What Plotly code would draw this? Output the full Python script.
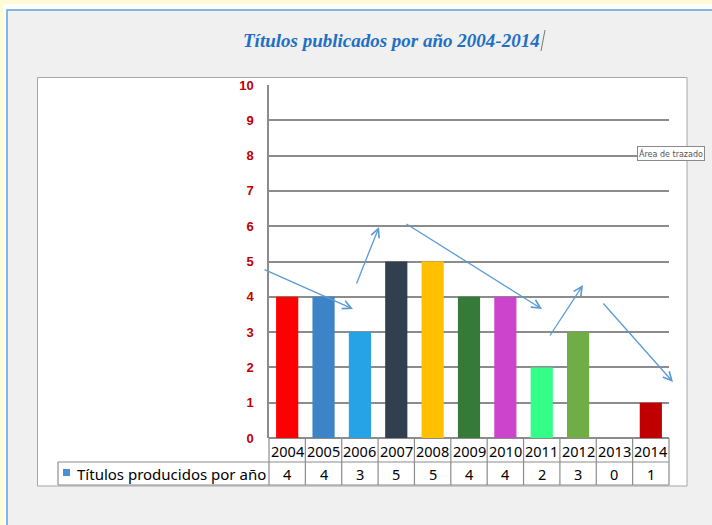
import plotly.graph_objects as go

# ---- data ----
years = ["2004", "2005", "2006", "2007", "2008", "2009", "2010", "2011", "2012", "2013", "2014"]
titles = [4, 4, 3, 5, 5, 4, 4, 2, 3, 0, 1]
bar_colors = ["#FF0000", "#3C84C7", "#26A2E6", "#323F4F", "#FFC000", "#357A38",
              "#CC44CC", "#33FF88", "#70AD47", "#7F7F7F", "#C00000"]
series_name = "Títulos producidos por año"
chart_title = "Títulos publicados por año 2004-2014"
y_ticks = list(range(0, 11))

W, H = 712, 525
L, R, T, B = 269, 43, 85, 87
PW, PH = W - L - R, H - T - B


def px(x):
    return (x - L) / PW


def py(y):
    return (T + PH - y) / PH


fig = go.Figure()
fig.add_trace(go.Bar(x=list(range(len(years))), y=titles, marker=dict(color=bar_colors, line=dict(width=0)),
                     name=series_name, showlegend=False, customdata=years,
                     hovertemplate="%{customdata}: %{y}<extra></extra>"))

shapes = []
# background layers
shapes.append(dict(type="rect", xref="paper", yref="paper", x0=px(3), x1=px(716), y0=py(4), y1=py(530),
                   fillcolor="white", line=dict(width=0), layer="below"))
shapes.append(dict(type="rect", xref="paper", yref="paper", x0=px(7), x1=px(716), y0=py(10), y1=py(530),
                   fillcolor="#F0F0F0", line=dict(color="#5BA3DC", width=1.5), layer="below"))
shapes.append(dict(type="rect", xref="paper", yref="paper", x0=px(37.5), x1=px(687), y0=py(77.5), y1=py(486),
                   fillcolor="white", line=dict(color="#A6A6A6", width=1), layer="below"))

grid_c = "#8C8C8C"
# table lines
n = len(years)
shapes.append(dict(type="line", xref="paper", yref="paper", x0=0, x1=1, y0=py(462), y1=py(462),
                   line=dict(color=grid_c, width=1.2)))
shapes.append(dict(type="line", xref="paper", yref="paper", x0=px(58), x1=0, y0=py(462), y1=py(462),
                   line=dict(color=grid_c, width=1.2)))
shapes.append(dict(type="line", xref="paper", yref="paper", x0=px(58), x1=1, y0=py(485), y1=py(485),
                   line=dict(color=grid_c, width=1.2)))
shapes.append(dict(type="line", xref="paper", yref="paper", x0=px(58), x1=px(58), y0=py(462), y1=py(485),
                   line=dict(color=grid_c, width=1.2)))
for k in range(n + 1):
    shapes.append(dict(type="line", xref="paper", yref="paper", x0=k / n, x1=k / n, y0=0, y1=py(485),
                       line=dict(color=grid_c, width=1.2)))
# legend key square
shapes.append(dict(type="rect", xref="paper", yref="paper", x0=px(63), x1=px(70), y0=py(469), y1=py(476),
                   fillcolor="#4A90D9", line=dict(width=0)))
# text cursor after title
shapes.append(dict(type="line", xref="paper", yref="paper", x0=px(545), x1=px(541), y0=py(30), y1=py(51),
                   line=dict(color="#777777", width=1)))

tbl_font = dict(family="Noto Sans", size=14.5, color="black")
annotations = []
for i, (yr, v) in enumerate(zip(years, titles)):
    annotations.append(dict(x=i, xref="x", y=py(450.5), yref="paper", text=yr, showarrow=False,
                            font=tbl_font, xanchor="center", yanchor="middle"))
    annotations.append(dict(x=i, xref="x", y=py(473.5), yref="paper", text=str(v), showarrow=False,
                            font=tbl_font, xanchor="center", yanchor="middle"))
annotations.append(dict(x=px(75), xref="paper", y=py(473.5), yref="paper", text=series_name, showarrow=False,
                        font=dict(family="Noto Sans", size=15, color="black"), xanchor="left",
                        yanchor="middle"))
# title
annotations.append(dict(x=px(391), xref="paper", y=py(40), yref="paper", text="<b><i>" + chart_title + "</i></b>",
                        showarrow=False, font=dict(family="Liberation Serif", size=19, color="#1F6FC4"),
                        xanchor="center", yanchor="middle"))
# tooltip
annotations.append(dict(x=px(671), xref="paper", y=py(153), yref="paper", text="Área de trazado",
                        showarrow=False, font=dict(family="DejaVu Sans", size=8, color="#555555"),
                        bgcolor="white", bordercolor="#8A8A8A", borderwidth=1, borderpad=1,
                        xanchor="center", yanchor="middle"))
# hand-drawn arrows (tail -> head in pixels)
arrows = [((263, 269), (353, 309)), ((356, 285), (379, 227)), ((405, 223), (542, 309)),
          ((549, 337), (583, 285)), ((602, 302), (673, 382))]
for (tx, ty), (hx, hy) in arrows:
    annotations.append(dict(x=px(hx), y=py(hy), xref="paper", yref="paper", ax=tx - hx, ay=ty - hy,
                            axref="pixel", ayref="pixel", showarrow=True, arrowhead=5, arrowsize=1.3,
                            arrowwidth=1.3, arrowcolor="#5B9BD5", text=""))

fig.update_layout(
    width=W, height=H,
    margin=dict(l=L, r=R, t=T, b=B),
    paper_bgcolor="#FFFBD6",
    plot_bgcolor="white",
    bargap=0.39,
    shapes=shapes,
    annotations=annotations,
    showlegend=False,
    xaxis=dict(range=[-0.5, n - 0.5], showticklabels=False, showgrid=False,
               zeroline=False, showline=False, fixedrange=True),
    yaxis=dict(range=[0, 10], tickvals=y_ticks, showgrid=True, gridcolor=grid_c, gridwidth=1.5,
               zeroline=True, zerolinecolor=grid_c, zerolinewidth=1.5,
               showline=True, linecolor=grid_c, linewidth=1.5, ticks="", ticklabelstandoff=11,
               tickfont=dict(family="Liberation Sans", size=13, color="#C00000", weight="bold"),
               fixedrange=True),
)

fig.write_html("out.html", config={"displayModeBar": False},
               post_script="document.body.style.margin='0';document.body.style.overflow='hidden';")
